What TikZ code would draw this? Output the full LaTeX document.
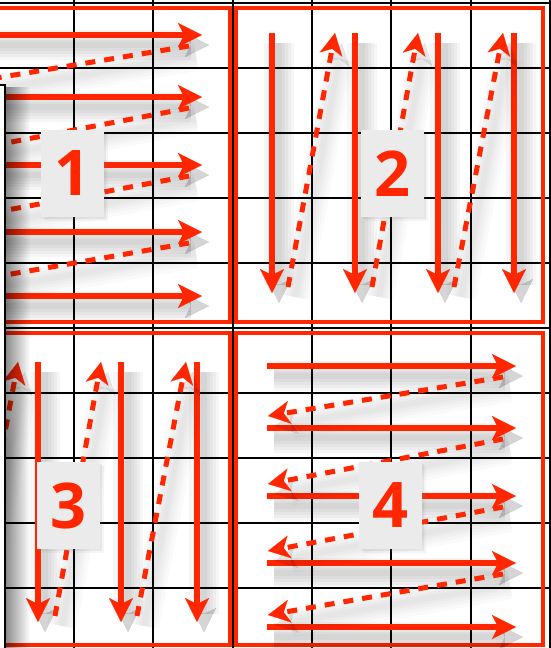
\documentclass[tikz,border=0pt]{standalone}
\usepackage{fontspec}
\newfontfamily\digitfont{Open Sans}
\usetikzlibrary{arrows.meta,shadows,fadings}

\definecolor{scanred}{RGB}{255,38,0}
\definecolor{boxgray}{RGB}{235,235,235}

\tikzset{
  gridline/.style={line width=2pt, black},
  quadbox/.style={line width=4.5pt, scanred},
  shadowstroke/.style={preaction={draw=black, solid, opacity=\shadeop,
      line width=#1, transform canvas={shift={(7pt,-10pt)}}}},
  castshadow/.style={/utils/exec={\def\shadeop{#1}},
    shadowstroke=30pt, shadowstroke=23pt, shadowstroke=17pt,
    shadowstroke=11pt, shadowstroke=6pt},
  scanline/.style={line width=6pt, scanred, castshadow=0.035,
    -{Stealth[length=24pt, width=24pt, inset=6pt, line width=0.1pt]}},
  backline/.style={line width=5pt, scanred, dash pattern=on 10pt off 9pt,
    castshadow=0.018,
    -{Stealth[length=22pt, width=23pt, inset=6pt, line width=0.1pt]}},
  numbox/.style={fill=boxgray, minimum width=63pt, minimum height=87pt,
    inner sep=0pt, text=scanred,
    font=\digitfont\bfseries\fontsize{63}{63}\selectfont,
    drop shadow={shadow xshift=2pt, shadow yshift=-2pt, opacity=0.12},
    drop shadow={shadow xshift=4pt, shadow yshift=-4pt, opacity=0.08}},
}

\begin{document}
\begin{tikzpicture}[x=1pt,y=-1pt]

    \useasboundingbox (0,0) rectangle (551,648);
    \clip (0,0) rectangle (551,648);

    % Grid
    \foreach \k in {-3,...,4}
        \draw[gridline] ({232.6+79.3*\k},-10) -- ({232.6+79.3*\k},660);
    \foreach \k in {-5,...,5}
        \draw[gridline] (-10,{327.5+65*\k}) -- (560,{327.5+65*\k});

    % Quadrants
    \foreach \xa/\ya/\xb/\yb in {-77/8/230/322, 236/8/543/322,
                                 -77/333/230/645, 236/333/543/645}
        \draw[quadbox] (\xa,\ya) rectangle (\xb,\yb);

    % 1 and 4: row by row
    \foreach \dx/\dy in {0/0, 314/331} {
        \foreach \y in {35,97,165,232,296}
            \draw[scanline] ({-47+\dx},{\y+\dy}) -- ({202+\dx},{\y+\dy});
        \foreach \ya/\yb in {35/97, 97/165, 165/232, 232/296}
            \draw[backline] ({189+\dx},{\ya+\dy+11}) -- ({-46+\dx},{\yb+\dy-12});
    }

    % 2 and 3: column by column
    \foreach \dx/\dy in {0/0, -317/329} {
        \foreach \x in {272,355,438,514}
            \draw[scanline] ({\x+\dx},{33+\dy}) -- ({\x+\dx},{293+\dy});
        \foreach \xa/\xb in {288/335, 372/418, 454/503}
            \draw[backline] ({\xa+\dx},{287+\dy}) -- ({\xb+\dx},{33+\dy});
    }

    % Labels
    \node[numbox] (n1) at (72.5,173.5) {1};
    \node[numbox] (n2) at (392.5,173.5) {2};
    \node[numbox] (n3) at (68.5,505.5) {3};
    \node[numbox] (n4) at (390,505.5) {4};

    % Window edge on the left
    \fill[black, opacity=0.45, path fading=east] (6,86) rectangle (30,660);
    \draw[line width=2.5pt, fill=white] (-20,85) rectangle (5,670);

\end{tikzpicture}
\end{document}
